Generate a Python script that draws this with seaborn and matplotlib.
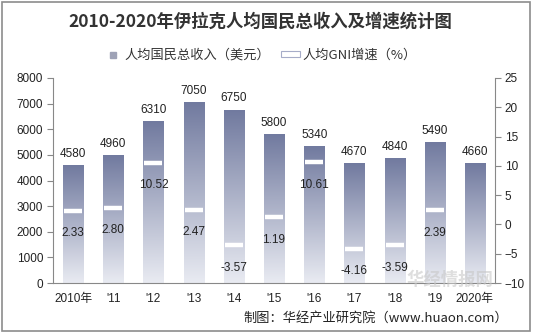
import numpy as np
import pandas as pd
import matplotlib
matplotlib.use("Agg")
import matplotlib.pyplot as plt
from matplotlib.colors import LinearSegmentedColormap
from matplotlib.patches import Rectangle
from matplotlib.lines import Line2D
import seaborn as sns

years = ["2010年", "'11", "'12", "'13", "'14", "'15", "'16", "'17", "'18", "'19", "2020年"]
gni = [4580, 4960, 6310, 7050, 6750, 5800, 5340, 4670, 4840, 5490, 4660]
growth = [2.33, 2.80, 10.52, 2.47, -3.57, 1.19, 10.61, -4.16, -3.59, 2.39, np.nan]

sns.set_theme(style="white")
plt.rcParams['font.family'] = ['Liberation Sans', 'Noto Sans CJK SC', 'DejaVu Sans']

df = pd.DataFrame({"year": years, "gni": gni, "growth": growth})

fig = plt.figure(figsize=(5.34, 3.35), dpi=100)
fig.patch.set_facecolor('white')
ax = fig.add_axes([53/534, 1-283/335, (495-53)/534, (283-78)/335])

sns.barplot(data=df, x="year", y="gni", ax=ax, width=0.5, color="#9aa0bc", saturation=1)

cmap = LinearSegmentedColormap.from_list("g", ["#e9ebf2", "#717a9f"])
grad = np.linspace(0, 1, 256).reshape(-1, 1)
for p in ax.patches:
    x0, w, h = p.get_x(), p.get_width(), p.get_height()
    ax.imshow(grad, extent=[x0, x0 + w, 0, h], origin='lower', aspect='auto',
              cmap=cmap, zorder=2, interpolation='bicubic')
    p.set_facecolor('none')
    p.set_edgecolor('none')

ax.set_xlim(-0.5, 10.5)
ax.set_ylim(0, 8000)
ax.set_yticks(range(0, 8001, 1000))
ax.set_xlabel("")
ax.set_ylabel("")
ax.set_xticks(range(len(years)))
ax.set_xticklabels(years, fontsize=8.5, color="#222222")
ax.set_xticks(np.arange(-0.5, 11, 1), minor=True)
ax.tick_params(axis='x', which='major', length=0, pad=7)
ax.tick_params(axis='x', which='minor', length=4, width=0.8, color="#888888", direction='out')
ax.tick_params(axis='y', length=4, width=0.8, color="#888888", direction='out', labelsize=8.5,
               labelcolor="#222222", pad=3)
for s in ['top', 'right']:
    ax.spines[s].set_visible(False)
for s in ['left', 'bottom']:
    ax.spines[s].set_color("#888888")
    ax.spines[s].set_linewidth(0.8)

for i, v in enumerate(gni):
    ax.annotate(f"{v}", (i, v), xytext=(0, 4), textcoords='offset points',
                ha='center', va='bottom', fontsize=8.5, color="#222222")

ax2 = ax.twinx()
ax2.set_ylim(-10, 25)
ax2.set_yticks(range(-10, 26, 5))
ax2.plot(range(len(years)), growth, ls='none', marker='_', ms=13.5, mew=3.2, color='white', zorder=5)
for i, g in enumerate(growth):
    if not np.isnan(g):
        ax2.annotate(f"{g:.2f}", (i, g), xytext=(0, -16), textcoords='offset points',
                     ha='center', va='center', fontsize=8.5, color="#222222")
ax2.tick_params(axis='y', length=4, width=0.8, color="#888888", direction='out', labelsize=8.5,
                labelcolor="#222222", pad=3)
for s in ['top', 'left', 'bottom']:
    ax2.spines[s].set_visible(False)
ax2.spines['right'].set_color("#888888")
ax2.spines['right'].set_linewidth(0.8)
ax2.grid(False)
ax.grid(False)

fig.text(260/534, 1-22/335, "2010-2020年伊拉克人均国民总收入及增速统计图", ha='center', va='center',
         fontsize=12.5, fontweight='bold', color="#333333", family=['Noto Sans CJK SC', 'DejaVu Sans'])

h1 = Line2D([], [], ls='none', marker='s', ms=4, mfc="#9ea2b6", mec="#9ea2b6")
h2 = Rectangle((0, 0), 1, 1, facecolor='white', edgecolor="#a6acc8", linewidth=0.8)
leg = fig.legend([h1, h2], ["人均国民总收入（美元）", "人均GNI增速（%）"], loc='center',
                 bbox_to_anchor=(260/534, 1-55/335), ncol=2, frameon=False,
                 prop={'family': ['Noto Sans CJK SC', 'DejaVu Sans'], 'size': 9.5},
                 handlelength=1.4, handletextpad=0.2, columnspacing=0.8,
                 handleheight=0.3)
for t in leg.get_texts():
    t.set_color("#333333")

fig.text(450/534, 1-280/335, "华经情报网", ha='center', va='center', fontsize=12.5, fontweight='bold',
         color="#c8c8c8", alpha=0.6, family=['Noto Sans CJK SC', 'DejaVu Sans'])

fig.text(508/534, 1-318/335, "制图：华经产业研究院（www.huaon.com）", ha='right', va='center',
         fontsize=9.5, color="#222222", family=['Noto Sans CJK SC', 'DejaVu Sans'])

fig.patches.append(Rectangle((2/534, 1-331/335), 528/534, 329/335, transform=fig.transFigure,
                             fill=False, edgecolor="#8c8c8c", linewidth=1.2))

fig.savefig("out.png", dpi=100)
